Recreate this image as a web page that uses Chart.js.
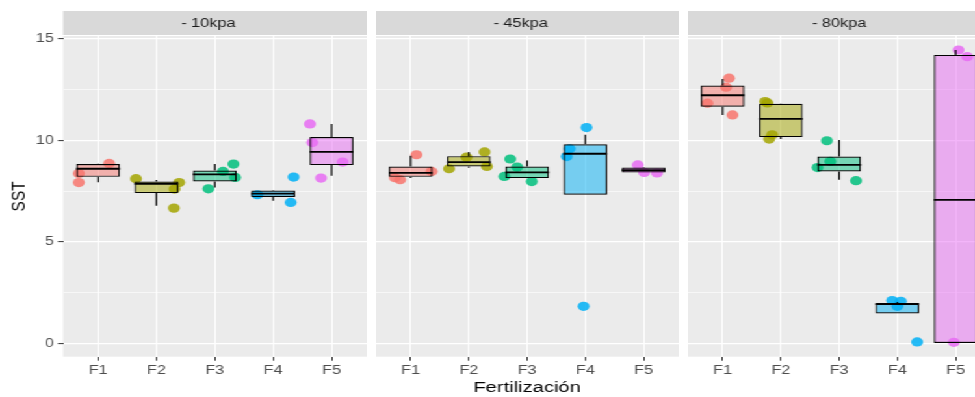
<!DOCTYPE html>
<html>
<head>
<meta charset="utf-8">
<script src="https://cdn.jsdelivr.net/npm/chart.js@4"></script>
<style>
  html, body { margin: 0; padding: 0; background: #fff; overflow: hidden; width: 975px; height: 397px; }
  /* the figure is laid out narrow and widened horizontally */
  #fig { position: absolute; left: 0; top: 0; width: 770px; height: 397px; transform: scaleX(1.3); transform-origin: 0 0; }
  #fig canvas { position: absolute; top: 0; }
</style>
</head>
<body>
<div id="fig">
  <canvas id="p1" width="282" height="397" style="left:0px"></canvas>
  <canvas id="p2" width="233" height="397" style="left:289px"></canvas>
  <canvas id="p3" width="233" height="397" style="left:529px"></canvas>
</div>
<script>
// Fertilization levels and soil water tension panels
const categories = ['F1', 'F2', 'F3', 'F4', 'F5'];
const panelLabels = ['- 10kpa', '- 45kpa', '- 80kpa'];
const yTicks = [0, 5, 10, 15];
const yMinorTicks = [2.5, 7.5, 12.5];

// Box summaries per level: [lower whisker, Q1, median, Q3, upper whisker]
const box10 = [
  [7.95, 8.21, 8.61, 8.84, 8.86],
  [6.79, 7.41, 7.86, 7.98, 8.05],
  [7.69, 7.98, 8.33, 8.52, 8.84],
  [7.03, 7.22, 7.38, 7.54, 7.56],
  [8.26, 8.79, 9.44, 10.17, 10.82]
];
const box45 = [
  [8.16, 8.21, 8.41, 8.72, 9.25],
  [8.66, 8.72, 8.94, 9.23, 9.43],
  [8.15, 8.15, 8.43, 8.72, 9.02],
  [7.33, 7.33, 9.35, 9.82, 10.28],
  [8.43, 8.43, 8.54, 8.67, 8.70]
];
const box80 = [
  [11.26, 11.67, 12.23, 12.71, 13.03],
  [10.07, 10.17, 11.07, 11.81, 11.83],
  [8.07, 8.48, 8.80, 9.21, 10.03],
  [1.48, 1.48, 1.94, 2.00, 2.05],
  [0.03, 0.03, 7.08, 14.22, 14.46]
];

// Individual observations: [level, jitter (level units), SST]
const obs10 = [
  ['F1', -0.33, 7.93], ['F1', -0.33, 8.38], ['F1', 0.19, 8.87],
  ['F2', -0.35, 8.12], ['F2', 0.39, 7.93], ['F2', 0.31, 7.61], ['F2', 0.30, 6.67],
  ['F3', -0.11, 7.62], ['F3', 0.14, 8.48], ['F3', 0.32, 8.84], ['F3', 0.35, 8.18],
  ['F4', -0.27, 7.33], ['F4', 0.30, 6.95], ['F4', 0.35, 8.20],
  ['F5', -0.37, 10.82], ['F5', -0.33, 9.90], ['F5', -0.18, 8.15], ['F5', 0.19, 8.94]
];
const obs45 = [
  ['F1', 0.10, 9.30], ['F1', -0.18, 8.07], ['F1', -0.27, 8.17], ['F1', 0.36, 8.48],
  ['F2', -0.34, 8.61], ['F2', -0.04, 9.18], ['F2', 0.27, 9.44], ['F2', 0.31, 8.72],
  ['F3', -0.29, 9.09], ['F3', -0.17, 8.69], ['F3', -0.39, 8.23], ['F3', 0.08, 7.98],
  ['F4', 0.02, 10.64], ['F4', -0.27, 9.59], ['F4', -0.32, 9.21], ['F4', -0.03, 1.83],
  ['F5', -0.10, 8.80], ['F5', 0.01, 8.43], ['F5', 0.23, 8.40]
];
const obs80 = [
  ['F1', 0.11, 13.07], ['F1', 0.06, 12.63], ['F1', -0.26, 11.84], ['F1', 0.17, 11.26],
  ['F2', -0.27, 11.92], ['F2', -0.23, 11.85], ['F2', -0.20, 10.07], ['F2', -0.15, 10.28],
  ['F3', -0.21, 9.99], ['F3', -0.15, 8.97], ['F3', -0.37, 8.67], ['F3', 0.29, 8.02],
  ['F4', -0.09, 2.12], ['F4', 0.06, 2.08], ['F4', 0.00, 1.83], ['F4', 0.34, 0.08],
  ['F5', 0.05, 14.46], ['F5', 0.20, 14.13], ['F5', -0.03, 0.06]
];

const levelColors = ['#F8766D', '#A3A500', '#00BF7D', '#00B0F6', '#E76BF3'];
const FONT = '"Liberation Sans", Arial, Helvetica, sans-serif';
Chart.defaults.font.family = FONT;

function rgba(hex, a) {
  const n = parseInt(hex.slice(1), 16);
  return `rgba(${(n >> 16) & 255},${(n >> 8) & 255},${n & 255},${a})`;
}

// Panel background, facet strip, whiskers and median lines
function facetPlugin(label, stats, nudge) {
  return {
    id: 'facet',
    beforeDraw(chart) {
      const { ctx, chartArea: a } = chart;
      ctx.save();
      ctx.fillStyle = '#EBEBEB';
      ctx.fillRect(a.left, a.top, a.right - a.left, a.bottom - a.top);
      ctx.fillStyle = '#D9D9D9';
      ctx.fillRect(a.left, 11, a.right - a.left, 24);
      ctx.fillStyle = '#1A1A1A';
      ctx.font = '12.5px ' + FONT;
      ctx.textAlign = 'center';
      ctx.textBaseline = 'middle';
      ctx.fillText(label, (a.left + a.right) / 2 + nudge, 23.5);
      ctx.restore();
    },
    afterDatasetsDraw(chart) {
      const { ctx, scales: { x, y } } = chart;
      const bars = chart.getDatasetMeta(1).data;
      ctx.save();
      ctx.strokeStyle = '#000';
      stats.forEach((s, i) => {
        const cx = x.getPixelForValue(i + 1);
        ctx.lineWidth = 1.2;
        ctx.beginPath();
        ctx.moveTo(cx, y.getPixelForValue(s[0]));
        ctx.lineTo(cx, y.getPixelForValue(s[1]));
        ctx.moveTo(cx, y.getPixelForValue(s[3]));
        ctx.lineTo(cx, y.getPixelForValue(s[4]));
        ctx.stroke();
        const half = bars[i].width / 2;
        const my = y.getPixelForValue(s[2]);
        ctx.lineWidth = 1.8;
        ctx.beginPath();
        ctx.moveTo(cx - half, my);
        ctx.lineTo(cx + half, my);
        ctx.stroke();
      });
      ctx.restore();
    }
  };
}

function drawPanel(id, label, stats, obs, opts) {
  const points = obs.map(([f, dx, v]) => ({ x: categories.indexOf(f) + 1 + dx, y: v }));
  const pointColors = obs.map(([f]) => rgba(levelColors[categories.indexOf(f)], 0.85));
  const boxes = stats.map((s, i) => ({ x: i + 1, y: [s[1], s[3]] }));

  new Chart(document.getElementById(id), {
    type: 'bar',
    data: {
      datasets: [
        {
          type: 'scatter',
          data: points,
          pointRadius: 4.6,
          pointHoverRadius: 4.6,
          pointBackgroundColor: pointColors,
          pointBorderWidth: 0,
          order: 2
        },
        {
          type: 'bar',
          data: boxes,
          backgroundColor: levelColors.map(c => rgba(c, 0.5)),
          borderColor: '#000',
          borderWidth: 1.2,
          borderSkipped: false,
          barPercentage: 0.75,
          categoryPercentage: 1,
          order: 1
        }
      ]
    },
    options: {
      responsive: false,
      animation: false,
      events: [],
      layout: { autoPadding: false, padding: { top: 36, right: 0, bottom: 0, left: 0 } },
      plugins: { legend: { display: false }, tooltip: { enabled: false } },
      scales: {
        x: {
          type: 'linear',
          min: 0.4,
          max: 5.6,
          offset: false,
          afterBuildTicks: s => { s.ticks = categories.map((c, i) => ({ value: i + 1 })); },
          afterFit: s => { s.height = 40.3; s.paddingLeft = 0; s.paddingRight = 0; },
          ticks: {
            callback: v => categories[Math.round(v) - 1],
            color: '#4D4D4D',
            font: { size: 12.5 },
            padding: 2.5,
            autoSkip: false,
            maxRotation: 0
          },
          grid: { color: '#FFFFFF', lineWidth: 1, tickColor: '#333333', tickLength: 4, tickWidth: 1, offset: false },
          border: { display: false },
          title: {
            display: opts.xTitle,
            text: 'Fertilización',
            color: '#000000',
            font: { size: 15.5 },
            padding: { top: 0, bottom: 0 }
          }
        },
        y: {
          type: 'linear',
          min: -0.65,
          max: 15.15,
          afterBuildTicks: s => { s.ticks = yTicks.concat(yMinorTicks).sort((a, b) => a - b).map(v => ({ value: v })); },
          afterFit: s => { s.width = opts.yAxis ? 48.5 : 0; s.paddingTop = 0; s.paddingBottom = 0; },
          ticks: {
            display: opts.yAxis,
            callback: v => yTicks.includes(v) ? String(v) : '',
            color: '#4D4D4D',
            font: { size: 12.5 },
            padding: 3,
            autoSkip: false
          },
          grid: {
            color: '#FFFFFF',
            lineWidth: c => yTicks.includes(c.tick.value) ? 1.2 : 0.6,
            drawTicks: opts.yAxis,
            tickColor: c => yTicks.includes(c.tick.value) ? '#333333' : 'rgba(0,0,0,0)',
            tickLength: 4,
            tickWidth: 1
          },
          border: { display: false },
          title: {
            display: opts.yAxis,
            text: 'SST',
            color: '#000000',
            font: { size: 15.5 },
            padding: { top: 5.7, bottom: 0 }
          }
        }
      }
    },
    plugins: [facetPlugin(label, stats, opts.nudge)]
  });
}

drawPanel('p1', panelLabels[0], box10, obs10, { yAxis: true, xTitle: false, nudge: -5 });
drawPanel('p2', panelLabels[1], box45, obs45, { yAxis: false, xTitle: true, nudge: -5 });
drawPanel('p3', panelLabels[2], box80, obs80, { yAxis: false, xTitle: false, nudge: 0 });
</script>
</body>
</html>
